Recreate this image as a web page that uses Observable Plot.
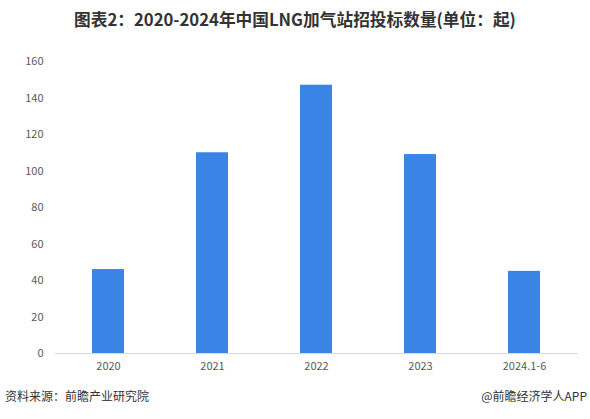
<!DOCTYPE html>
<html>
<head>
<meta charset="utf-8">
<script src="https://cdn.jsdelivr.net/npm/d3@7"></script>
<script src="https://cdn.jsdelivr.net/npm/@observablehq/plot@0.6"></script>
<style>
  body { margin: 0; background: #fff; font-family: "Noto Sans CJK SC", "Noto Sans", sans-serif; }
  #wrap { width: 590px; height: 419px; position: relative; overflow: hidden; }
  #title { position: absolute; top: 7px; left: 0; width: 590px; text-align: center; font-size: 16.7px; font-weight: bold; color: #333; }
  #chart { position: absolute; top: 40px; left: 0; }
  #src { position: absolute; top: 387px; left: 5px; font-size: 12px; color: #333; }
  #app { position: absolute; top: 387px; right: 3px; font-size: 12px; color: #333; }
</style>
</head>
<body>
<div id="wrap">
  <div id="title">图表2：2020-2024年中国LNG加气站招投标数量(单位：起)</div>
  <div id="chart"></div>
  <div id="src">资料来源：前瞻产业研究院</div>
  <div id="app">@前瞻经济学人APP</div>
</div>
<script>
const categories = ["2020", "2021", "2022", "2023", "2024.1-6"];
const values = [46, 110, 147, 109, 45];
const yTicks = [0, 20, 40, 60, 80, 100, 120, 140, 160];

const data = categories.map((c, i) => ({category: c, value: values[i]}));

const chart = Plot.plot({
  width: 590,
  height: 345,
  marginTop: 21,
  marginBottom: 32,
  marginLeft: 55,
  marginRight: 12,
  style: {fontFamily: "'Noto Sans CJK SC', 'Noto Sans', sans-serif", fontSize: "11px", color: "#595959"},
  x: {domain: categories, paddingInner: 0.69, paddingOuter: 0.345, label: null},
  y: {domain: [0, 160], label: null},
  marks: [
    Plot.barY(data, {x: "category", y: "value", fill: "#3a84e5"}),
    Plot.axisY({ticks: yTicks, tickSize: 0, tickPadding: 12, label: null, fill: "#595959", fontSize: 11}),
    Plot.axisX({tickSize: 0, tickPadding: 9, label: null, fill: "#595959", fontSize: 11}),
    Plot.ruleY([0], {stroke: "#d9d9d9", strokeWidth: 1})
  ]
});
document.getElementById("chart").appendChild(chart);
</script>
</body>
</html>
